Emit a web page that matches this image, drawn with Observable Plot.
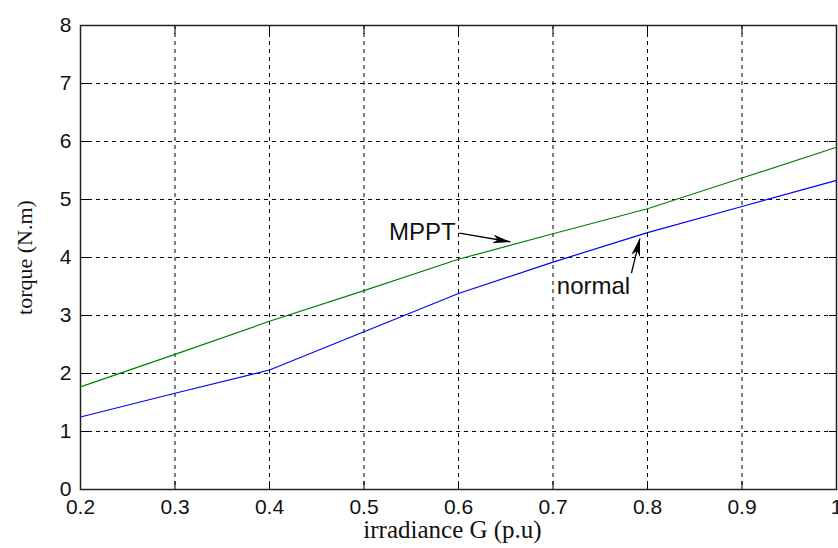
<!DOCTYPE html>
<html>
<head>
<meta charset="utf-8">
<script src="https://cdn.jsdelivr.net/npm/d3@7"></script>
<script src="https://cdn.jsdelivr.net/npm/@observablehq/plot@0.6"></script>
<style>
  html, body { margin: 0; padding: 0; background: #fff; }
  #chart svg { display: block; }
</style>
</head>
<body>
<div id="chart"></div>
<script>
// Irradiance (p.u.) sample points
const irradiance = [0.2, 0.3, 0.4, 0.5, 0.6, 0.7, 0.8, 0.9, 1.0];
// Motor torque (N.m) with maximum power point tracking
const torqueMPPT = [1.77, 2.33, 2.90, 3.43, 3.97, 4.41, 4.84, 5.37, 5.90];
// Motor torque (N.m) without tracking
const torqueNormal = [1.25, 1.66, 2.06, 2.72, 3.38, 3.92, 4.43, 4.88, 5.33];

const xTicks = [0.2, 0.3, 0.4, 0.5, 0.6, 0.7, 0.8, 0.9, 1];
const yTicks = [0, 1, 2, 3, 4, 5, 6, 7, 8];

// Curve labels and their pointer arrows (data coordinates)
const labelMPPT = {text: "MPPT", x: 0.597, y: 4.43};
const labelNormal = {text: "normal", x: 0.704, y: 3.50};
const pointers = [
  {x1: 0.601, y1: 4.42, x2: 0.655, y2: 4.27},
  {x1: 0.783, y1: 3.73, x2: 0.792, y2: 4.33}
];

const rows = (ys, series) => irradiance.map((x, i) => ({x, y: ys[i], series}));
const data = [...rows(torqueMPPT, "MPPT"), ...rows(torqueNormal, "normal")];

const sans = "'Liberation Sans', Arial, sans-serif";
const serif = "'Liberation Serif', 'Times New Roman', serif";

// filled, narrow arrowhead
function solidHead(color, context) {
  const doc = context.document;
  const ns = "http://www.w3.org/2000/svg";
  const marker = doc.createElementNS(ns, "marker");
  marker.setAttribute("viewBox", "-18 -4.5 18 9");
  marker.setAttribute("markerWidth", 18);
  marker.setAttribute("markerHeight", 9);
  marker.setAttribute("markerUnits", "userSpaceOnUse");
  marker.setAttribute("refX", 0);
  marker.setAttribute("refY", 0);
  marker.setAttribute("orient", "auto");
  const path = doc.createElementNS(ns, "path");
  path.setAttribute("d", "M0,0L-18,-4.5L-13,0L-18,4.5Z");
  path.setAttribute("fill", "#000");
  path.setAttribute("stroke", "none");
  marker.appendChild(path);
  return marker;
}

const chart = Plot.plot({
  width: 838,
  height: 548,
  marginLeft: 80,
  marginRight: 2,
  marginTop: 25,
  marginBottom: 59,
  style: {fontFamily: sans, fontSize: "21px", color: "#111", background: "#fff"},
  x: {domain: [0.2, 1], ticks: xTicks},
  y: {domain: [0, 8], ticks: yTicks},
  marks: [
    Plot.gridX(xTicks, {stroke: "#000", strokeOpacity: 1, strokeDasharray: "4,4"}),
    Plot.gridY(yTicks, {stroke: "#000", strokeOpacity: 1, strokeDasharray: "4,4"}),
    // inward tick marks on all four sides
    Plot.axisX(xTicks, {anchor: "bottom", tickSize: -8, tickFormat: () => "", label: null, stroke: "#000"}),
    Plot.axisX(xTicks, {anchor: "top", tickSize: -8, tickFormat: () => "", label: null, stroke: "#000"}),
    Plot.axisY(yTicks, {anchor: "left", tickSize: -8, tickFormat: () => "", label: null, stroke: "#000"}),
    Plot.axisY(yTicks, {anchor: "right", tickSize: -8, tickFormat: () => "", label: null, stroke: "#000"}),
    // tick labels
    Plot.axisX(xTicks, {anchor: "bottom", tickSize: 0, tickPadding: 10, label: null, fontSize: 21, tickFormat: d => d === 1 ? "1" : d3.format(".1f")(d), fill: "#111"}),
    Plot.axisY(yTicks, {anchor: "left", tickSize: 0, tickPadding: 9, label: null, fontSize: 21, tickFormat: d => String(d), fill: "#111"}),
    Plot.frame({stroke: "#222", strokeWidth: 1.5}),
    Plot.line(data, {x: "x", y: "y", z: "series", stroke: d => d.series === "MPPT" ? "#008000" : "#0000ff", strokeWidth: 1.2}),
    Plot.link(pointers, {x1: "x1", y1: "y1", x2: "x2", y2: "y2", stroke: "#000", strokeWidth: 1.3, markerEnd: solidHead}),
    Plot.text([labelMPPT], {x: "x", y: "y", text: "text", textAnchor: "end", fontSize: 24, fill: "#111"}),
    Plot.text([labelNormal], {x: "x", y: "y", text: "text", textAnchor: "start", fontSize: 24, fill: "#111"}),
    // axis titles
    Plot.text(["torque (N.m)"], {frameAnchor: "left", textAnchor: "middle", lineAnchor: "middle", dx: -56, rotate: -90, fontFamily: serif, fontSize: 22, fill: "#111"}),
    Plot.text(["irradiance G (p.u)"], {frameAnchor: "bottom", textAnchor: "middle", lineAnchor: "bottom", dx: -6, dy: 48, fontFamily: serif, fontSize: 25, fill: "#111"})
  ]
});

document.getElementById("chart").appendChild(chart);
</script>
</body>
</html>
